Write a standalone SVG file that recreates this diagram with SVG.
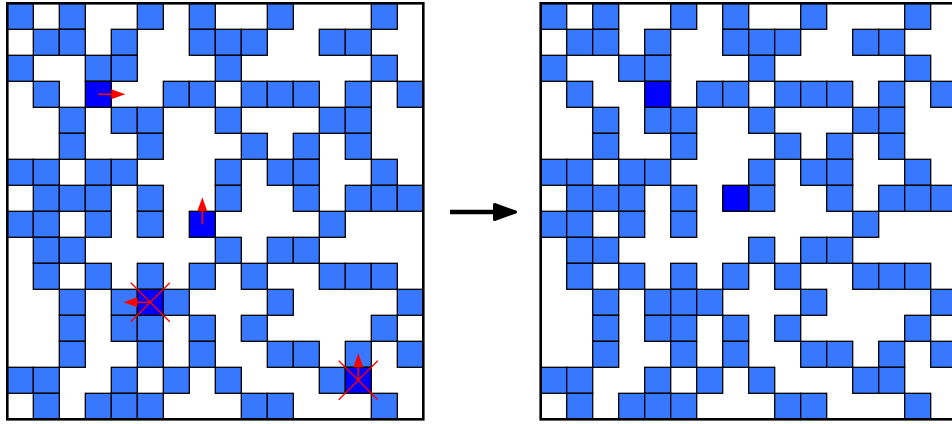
<svg xmlns="http://www.w3.org/2000/svg" xmlns:xlink="http://www.w3.org/1999/xlink" width="952" height="424" viewBox="0 0 952 424">
<style>
.b{fill:#3778ff;stroke:#000;stroke-width:1.3}
.d{fill:#0000ff;stroke:#000;stroke-width:1.3}
.frame{fill:none;stroke:#000;stroke-width:2.6}
.ra{stroke:#ff0000;stroke-width:1.6;fill:none}
.rh{fill:#ff0000;stroke:none}
.rx{stroke:#ff0000;stroke-width:1.3}
</style>
<defs>
<rect id="c" width="26" height="26"/>
</defs>
<rect width="952" height="424" fill="#fff"/>
<g id="grid-before" transform="translate(7.3,3.3)">
<g class="b">
<use href="#c" x="0" y="0"/><use href="#c" x="52" y="0"/><use href="#c" x="130" y="0"/><use href="#c" x="182" y="0"/><use href="#c" x="260" y="0"/><use href="#c" x="364" y="0"/>
<use href="#c" x="26" y="26"/><use href="#c" x="52" y="26"/><use href="#c" x="104" y="26"/><use href="#c" x="182" y="26"/><use href="#c" x="208" y="26"/><use href="#c" x="234" y="26"/><use href="#c" x="312" y="26"/><use href="#c" x="338" y="26"/>
<use href="#c" x="0" y="52"/><use href="#c" x="78" y="52"/><use href="#c" x="104" y="52"/><use href="#c" x="208" y="52"/><use href="#c" x="364" y="52"/>
<use href="#c" x="26" y="78"/><use href="#c" x="156" y="78"/><use href="#c" x="182" y="78"/><use href="#c" x="234" y="78"/><use href="#c" x="260" y="78"/><use href="#c" x="286" y="78"/><use href="#c" x="338" y="78"/><use href="#c" x="390" y="78"/>
<use href="#c" x="52" y="104"/><use href="#c" x="104" y="104"/><use href="#c" x="130" y="104"/><use href="#c" x="208" y="104"/><use href="#c" x="312" y="104"/><use href="#c" x="338" y="104"/>
<use href="#c" x="52" y="130"/><use href="#c" x="130" y="130"/><use href="#c" x="234" y="130"/><use href="#c" x="286" y="130"/><use href="#c" x="338" y="130"/>
<use href="#c" x="0" y="156"/><use href="#c" x="26" y="156"/><use href="#c" x="78" y="156"/><use href="#c" x="104" y="156"/><use href="#c" x="208" y="156"/><use href="#c" x="260" y="156"/><use href="#c" x="286" y="156"/><use href="#c" x="364" y="156"/>
<use href="#c" x="26" y="182"/><use href="#c" x="52" y="182"/><use href="#c" x="78" y="182"/><use href="#c" x="130" y="182"/><use href="#c" x="208" y="182"/><use href="#c" x="286" y="182"/><use href="#c" x="338" y="182"/><use href="#c" x="364" y="182"/><use href="#c" x="390" y="182"/>
<use href="#c" x="0" y="208"/><use href="#c" x="26" y="208"/><use href="#c" x="78" y="208"/><use href="#c" x="130" y="208"/><use href="#c" x="312" y="208"/>
<use href="#c" x="26" y="234"/><use href="#c" x="52" y="234"/><use href="#c" x="208" y="234"/><use href="#c" x="260" y="234"/><use href="#c" x="286" y="234"/>
<use href="#c" x="26" y="260"/><use href="#c" x="78" y="260"/><use href="#c" x="130" y="260"/><use href="#c" x="182" y="260"/><use href="#c" x="234" y="260"/><use href="#c" x="312" y="260"/><use href="#c" x="338" y="260"/><use href="#c" x="364" y="260"/>
<use href="#c" x="52" y="286"/><use href="#c" x="104" y="286"/><use href="#c" x="156" y="286"/><use href="#c" x="260" y="286"/><use href="#c" x="390" y="286"/>
<use href="#c" x="52" y="312"/><use href="#c" x="104" y="312"/><use href="#c" x="130" y="312"/><use href="#c" x="182" y="312"/><use href="#c" x="234" y="312"/><use href="#c" x="364" y="312"/>
<use href="#c" x="52" y="338"/><use href="#c" x="130" y="338"/><use href="#c" x="182" y="338"/><use href="#c" x="260" y="338"/><use href="#c" x="286" y="338"/><use href="#c" x="338" y="338"/><use href="#c" x="390" y="338"/>
<use href="#c" x="0" y="364"/><use href="#c" x="26" y="364"/><use href="#c" x="104" y="364"/><use href="#c" x="156" y="364"/><use href="#c" x="208" y="364"/><use href="#c" x="312" y="364"/>
<use href="#c" x="26" y="390"/><use href="#c" x="78" y="390"/><use href="#c" x="104" y="390"/><use href="#c" x="130" y="390"/><use href="#c" x="234" y="390"/><use href="#c" x="260" y="390"/><use href="#c" x="364" y="390"/>
</g>
<g class="d">
<use href="#c" x="78" y="78"/><use href="#c" x="182" y="208"/><use href="#c" x="130" y="286"/><use href="#c" x="338" y="364"/>
</g>
<rect class="frame" x="0" y="0" width="416" height="416"/>
<g id="moves">
<line class="ra" x1="91" y1="91" x2="105" y2="91"/><polygon class="rh" points="104,86 118,91 104,96"/>
<line class="ra" x1="195" y1="221" x2="195" y2="207"/><polygon class="rh" points="190,208 195,194 200,208"/>
<line class="ra" x1="143" y1="299" x2="129" y2="299"/><polygon class="rh" points="130,294 116,299 130,304"/>
<line class="rx" x1="123.5" y1="279.5" x2="162.5" y2="318.5"/><line class="rx" x1="123.5" y1="318.5" x2="162.5" y2="279.5"/>
<line class="ra" x1="351" y1="377" x2="351" y2="363"/><polygon class="rh" points="346,364 351,350 356,364"/>
<line class="rx" x1="331.5" y1="357.5" x2="370.5" y2="396.5"/><line class="rx" x1="331.5" y1="396.5" x2="370.5" y2="357.5"/>
</g>
</g>
<g id="connectors">
<line x1="450" y1="212" x2="496" y2="212" stroke="#000" stroke-width="4.5"/>
<polygon points="494.5,204.5 515.5,212 494.5,219.5" fill="#000" stroke="#000" stroke-width="3" stroke-linejoin="round"/>
</g>
<g id="grid-after" transform="translate(540.7,3.3)">
<g class="b">
<use href="#c" x="0" y="0"/><use href="#c" x="52" y="0"/><use href="#c" x="130" y="0"/><use href="#c" x="182" y="0"/><use href="#c" x="260" y="0"/><use href="#c" x="364" y="0"/>
<use href="#c" x="26" y="26"/><use href="#c" x="52" y="26"/><use href="#c" x="104" y="26"/><use href="#c" x="182" y="26"/><use href="#c" x="208" y="26"/><use href="#c" x="234" y="26"/><use href="#c" x="312" y="26"/><use href="#c" x="338" y="26"/>
<use href="#c" x="0" y="52"/><use href="#c" x="78" y="52"/><use href="#c" x="104" y="52"/><use href="#c" x="208" y="52"/><use href="#c" x="364" y="52"/>
<use href="#c" x="26" y="78"/><use href="#c" x="156" y="78"/><use href="#c" x="182" y="78"/><use href="#c" x="234" y="78"/><use href="#c" x="260" y="78"/><use href="#c" x="286" y="78"/><use href="#c" x="338" y="78"/><use href="#c" x="390" y="78"/>
<use href="#c" x="52" y="104"/><use href="#c" x="104" y="104"/><use href="#c" x="130" y="104"/><use href="#c" x="208" y="104"/><use href="#c" x="312" y="104"/><use href="#c" x="338" y="104"/>
<use href="#c" x="52" y="130"/><use href="#c" x="130" y="130"/><use href="#c" x="234" y="130"/><use href="#c" x="286" y="130"/><use href="#c" x="338" y="130"/>
<use href="#c" x="0" y="156"/><use href="#c" x="26" y="156"/><use href="#c" x="78" y="156"/><use href="#c" x="104" y="156"/><use href="#c" x="208" y="156"/><use href="#c" x="260" y="156"/><use href="#c" x="286" y="156"/><use href="#c" x="364" y="156"/>
<use href="#c" x="26" y="182"/><use href="#c" x="52" y="182"/><use href="#c" x="78" y="182"/><use href="#c" x="130" y="182"/><use href="#c" x="208" y="182"/><use href="#c" x="286" y="182"/><use href="#c" x="338" y="182"/><use href="#c" x="364" y="182"/><use href="#c" x="390" y="182"/>
<use href="#c" x="0" y="208"/><use href="#c" x="26" y="208"/><use href="#c" x="78" y="208"/><use href="#c" x="130" y="208"/><use href="#c" x="312" y="208"/>
<use href="#c" x="26" y="234"/><use href="#c" x="52" y="234"/><use href="#c" x="208" y="234"/><use href="#c" x="260" y="234"/><use href="#c" x="286" y="234"/>
<use href="#c" x="26" y="260"/><use href="#c" x="78" y="260"/><use href="#c" x="130" y="260"/><use href="#c" x="182" y="260"/><use href="#c" x="234" y="260"/><use href="#c" x="312" y="260"/><use href="#c" x="338" y="260"/><use href="#c" x="364" y="260"/>
<use href="#c" x="52" y="286"/><use href="#c" x="104" y="286"/><use href="#c" x="130" y="286"/><use href="#c" x="156" y="286"/><use href="#c" x="260" y="286"/><use href="#c" x="390" y="286"/>
<use href="#c" x="52" y="312"/><use href="#c" x="104" y="312"/><use href="#c" x="130" y="312"/><use href="#c" x="182" y="312"/><use href="#c" x="234" y="312"/><use href="#c" x="364" y="312"/>
<use href="#c" x="52" y="338"/><use href="#c" x="130" y="338"/><use href="#c" x="182" y="338"/><use href="#c" x="260" y="338"/><use href="#c" x="286" y="338"/><use href="#c" x="338" y="338"/><use href="#c" x="390" y="338"/>
<use href="#c" x="0" y="364"/><use href="#c" x="26" y="364"/><use href="#c" x="104" y="364"/><use href="#c" x="156" y="364"/><use href="#c" x="208" y="364"/><use href="#c" x="312" y="364"/><use href="#c" x="338" y="364"/>
<use href="#c" x="26" y="390"/><use href="#c" x="78" y="390"/><use href="#c" x="104" y="390"/><use href="#c" x="130" y="390"/><use href="#c" x="234" y="390"/><use href="#c" x="260" y="390"/><use href="#c" x="364" y="390"/>
</g>
<g class="d">
<use href="#c" x="104" y="78"/><use href="#c" x="182" y="182"/>
</g>
<rect class="frame" x="0" y="0" width="416" height="416"/>
</g>
</svg>
